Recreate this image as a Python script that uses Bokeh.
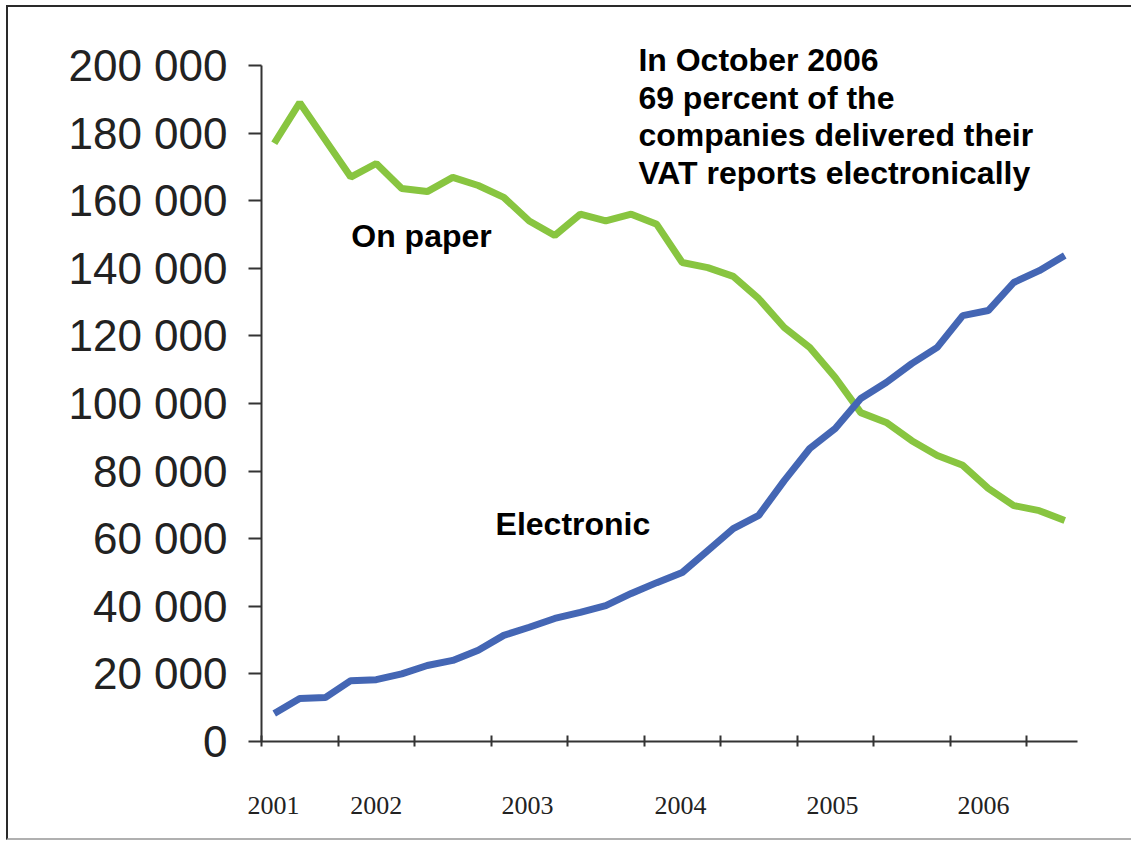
from bokeh.plotting import figure
from bokeh.models import FixedTicker, LinearAxis, Label, Range1d
from bokeh.embed import file_html
from bokeh.resources import INLINE

# ---- data (bi-monthly VAT terms, 32 periods) ----
paper = [177000, 189000, 178000, 167000, 171000, 163600, 162700, 166900,
         164500, 161000, 154000, 149700, 156000, 154000, 156000, 153000,
         141700, 140200, 137600, 131000, 122500, 116600, 107700, 97300,
         94400, 89000, 84600, 81700, 74900, 69800, 68300, 65400]
electronic = [8300, 12700, 13000, 18000, 18300, 20000, 22500, 24000,
              27000, 31400, 33800, 36400, 38200, 40200, 43800, 47000,
              50000, 56500, 63000, 66900, 77200, 86700, 92600, 101500,
              106200, 111800, 116600, 126000, 127500, 135800, 139300, 143800]
year_labels = ["2001", "2002", "2003", "2004", "2005", "2006"]
year_pos = [0.47, 4.5, 10.43, 16.43, 22.39, 28.31]
x_ticks = [0, 3, 6, 9, 12, 15, 18, 21, 24, 27, 30]
y_ticks = [0, 20000, 40000, 60000, 80000, 100000, 120000, 140000, 160000, 180000, 200000]
note_lines = ["In October 2006", "69 percent of the",
              "companies delivered their", "VAT reports electronically"]

n = len(paper)
xs = [i + 0.5 for i in range(n)]

y_end = 724 / 676 * 200000

p = figure(width=1125, height=835, x_range=Range1d(0, n), y_range=Range1d(0, y_end),
           output_backend="svg", toolbar_location=None,
           min_border_left=253, min_border_right=56, min_border_top=10, min_border_bottom=101)
p.styles = {"margin-left": "6px", "margin-top": "5px",
            "border-left": "2px solid #2a2a2a", "border-top": "2px solid #2a2a2a",
            "border-bottom": "2px solid #b0b0b0"}
p.outline_line_color = None
p.grid.visible = False
p.background_fill_color = "white"

# main x axis: ticks only
xa = p.xaxis[0]
xa.ticker = FixedTicker(ticks=x_ticks)
xa.major_label_overrides = {t: "" for t in x_ticks}
xa.major_label_text_font_size = "1px"
xa.major_label_standoff = 0
xa.major_tick_in = 6
xa.major_tick_out = 5
xa.minor_tick_line_color = None
xa.axis_line_color = "#333333"
xa.axis_line_width = 2
xa.major_tick_line_color = "#333333"
xa.major_tick_line_width = 2

# year label axis
ya2 = LinearAxis(ticker=FixedTicker(ticks=year_pos),
                 major_label_overrides={pos: lab for pos, lab in zip(year_pos, year_labels)})
ya2.axis_line_color = None
ya2.major_tick_line_color = None
ya2.minor_tick_line_color = None
ya2.major_tick_out = 0
ya2.major_tick_in = 0
ya2.major_label_standoff = 50
ya2.major_label_text_font = "Liberation Serif"
ya2.major_label_text_font_size = "26px"
ya2.major_label_text_color = "#222222"
p.add_layout(ya2, "below")

# y axis
ya = p.yaxis[0]
ya.ticker = FixedTicker(ticks=y_ticks)
ya.bounds = (0, 200000)
ya.major_label_overrides = {v: f"{v:,}".replace(",", " ") for v in y_ticks}
ya.major_label_text_font = "Liberation Sans"
ya.major_label_text_font_size = "44px"
ya.major_label_text_color = "#222222"
ya.major_label_standoff = 21
ya.major_tick_in = 0
ya.major_tick_out = 13
ya.minor_tick_line_color = None
ya.axis_line_color = "#333333"
ya.axis_line_width = 2
ya.major_tick_line_color = "#333333"
ya.major_tick_line_width = 2

# lines
p.line(xs, paper, line_color="#88C540", line_width=7)
p.line(xs, electronic, line_color="#4466B4", line_width=7)

# annotations
bold = dict(text_font="Liberation Sans", text_font_style="bold", text_color="black",
            text_baseline="alphabetic", text_align="left")
note_y = [201500, 190300, 179300, 168100]
for t, yy in zip(note_lines, note_y):
    p.add_layout(Label(x=14.78, y=yy, text=t, text_font_size="32px", **bold))
p.add_layout(Label(x=3.52, y=149500, text="On paper", text_font_size="32px", **bold))
p.add_layout(Label(x=9.18, y=64300, text="Electronic", text_font_size="32px", **bold))

open("out.html", "w").write(file_html(p, INLINE))
